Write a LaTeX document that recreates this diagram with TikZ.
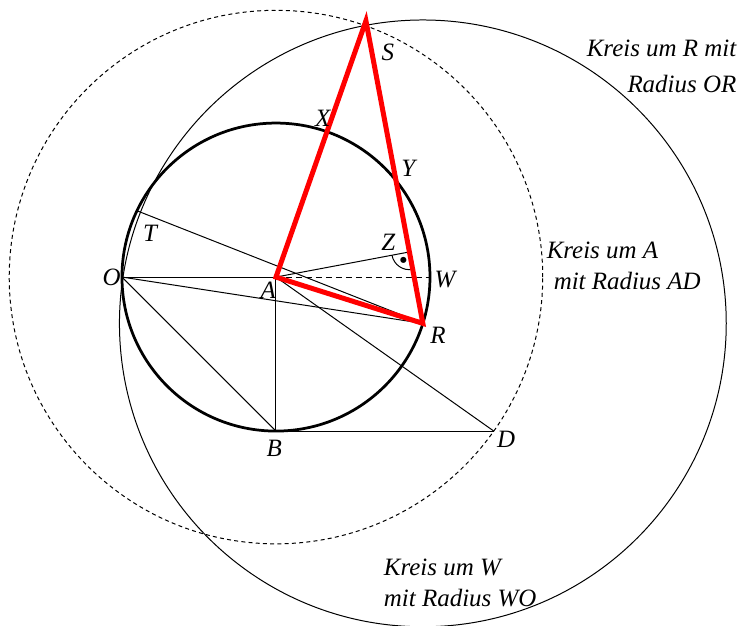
\documentclass[tikz,border=0pt]{standalone}
\usepackage{fontspec}
\setmainfont{Liberation Serif}
\usetikzlibrary{calc, angles}

\begin{document}
\begin{tikzpicture}[
          x=2.17cm, y=2.17cm,
          lbl/.style={font=\itshape, inner sep=0pt},
          txt/.style={font=\itshape\fontsize{10}{12.5}\selectfont, inner sep=0pt},
          konst/.style={line width=0.4pt},
          kreis/.style={line width=1.1pt},
          dreieck/.style={red, line width=2pt},
          punktiert/.style={line width=0.4pt, dash pattern=on 1.6pt off 1.3pt},
          strich/.style={line width=0.4pt, dash pattern=on 2.4pt off 1.6pt}
        ]
          \useasboundingbox (-1.792,-2.260) rectangle (3.039,1.799);

          % 点の配置
          \coordinate (A) at (0,0);
          \coordinate (O) at (-1,0);
          \coordinate (B) at (0,-1);
          \coordinate (D) at ({sqrt(2)},-1);
          \coordinate (W) at (1,0);
          \coordinate (R) at (-17.5:1);
          \coordinate (T) at (154.5:1);
          \coordinate (S) at (0.584,1.664);
          \coordinate (Z) at ($(S)!(A)!(R)$);

          % 円
          \draw[punktiert] (A) circle ({sqrt(3)});
          \draw[konst] (R) circle (1.97);
          \draw[kreis] (A) circle (1);

          % 補助線
          \draw[konst] (O) -- (A);
          \draw[konst] (O) -- (R);
          \draw[konst] (O) -- (B);
          \draw[konst] (A) -- (B);
          \draw[konst] (B) -- (D);
          \draw[konst] (A) -- (D);
          \draw[konst] (T) -- (R);
          \draw[konst] (A) -- (Z);
          \draw[strich] (A) -- (W);
          \pic[draw, konst, angle radius=2.5mm, pic text={$\scriptscriptstyle\bullet$}] {angle=A--Z--R};

          % 三角形
          \draw[dreieck] (A) -- (S) -- (R) -- cycle;

          % ラベル
          \node[lbl] (lS) at (0.727,1.461) {S};
          \node[lbl] (lX) at (0.303,1.030) {X};
          \node[lbl] (lY) at (0.859,0.706) {Y};
          \node[lbl] (lZ) at (0.729,0.223) {Z};
          \node[lbl] (lW) at (1.097,-0.019) {W};
          \node[lbl] (lR) at (1.052,-0.377) {R};
          \node[lbl] (lA) at (-0.050,-0.084) {A};
          \node[lbl] (lO) at (-1.067,-0.005) {O};
          \node[lbl] (lT) at (-0.818,0.284) {T};
          \node[lbl] (lB) at (-0.011,-1.112) {B};
          \node[lbl] (lD) at (1.494,-1.054) {D};

          % 説明
          \node[txt, anchor=east, align=right] (kR) at (2.992,1.370) {Kreis um R mit\\[2pt]Radius OR};
          \node[txt, anchor=west, align=left] (kA) at (1.755,0.071) {Kreis um A\\\hspace*{0.28em}mit Radius AD};
          \node[txt, anchor=west, align=left] (kW) at (0.698,-1.984) {Kreis um W\\mit Radius WO};
        \end{tikzpicture}
\end{document}
